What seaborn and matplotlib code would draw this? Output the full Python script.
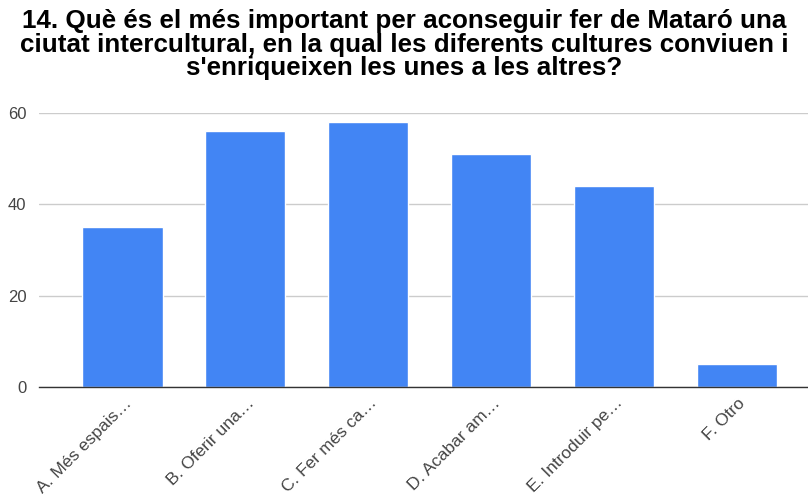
import matplotlib
matplotlib.use('Agg')
import matplotlib.pyplot as plt
import matplotlib.transforms as mtransforms
import seaborn as sns
import pandas as pd

# Survey answers (truncated as in the original chart) and response counts
categories = ['A. Més espais…', 'B. Oferir una…', 'C. Fer més ca…',
              'D. Acabar am…', 'E. Introduir pe…', 'F. Otro']
counts = [35, 56, 58, 51, 44, 5]
y_ticks = [0, 20, 40, 60]

title = ("14. Què és el més important per aconseguir fer de Mataró una\n"
         "ciutat intercultural, en la qual les diferents cultures conviuen i\n"
         "s'enriqueixen les unes a les altres?")

df = pd.DataFrame({'categoria': categories, 'respostes': counts})

sns.set_style('white')
plt.rcParams['font.family'] = ['Liberation Sans', 'DejaVu Sans']

fig = plt.figure(figsize=(8.08, 4.95), dpi=100)
ax = fig.add_axes([39 / 808, 1 - 387 / 495, 1 - 39 / 808, (387 - 113) / 495])

sns.barplot(data=df, x='categoria', y='respostes', color='#4285f4',
            width=0.652, saturation=1, ax=ax, zorder=3)

ax.set_ylim(0, 60)
ax.set_xlim(-0.68, 5.58)
ax.set_yticks(y_ticks)
ax.yaxis.grid(True, color='#cccccc', linewidth=1, zorder=0)
ax.set_xlabel('')
ax.set_ylabel('')

for side in ['top', 'right', 'left']:
    ax.spines[side].set_visible(False)
ax.spines['bottom'].set_color('#333333')
ax.spines['bottom'].set_linewidth(1)
ax.spines['bottom'].set_zorder(4)

ax.tick_params(axis='y', length=0, pad=9, labelsize=12, labelcolor='#444444')
ax.tick_params(axis='x', length=0, pad=6, labelsize=12.5, labelcolor='#444444')
# rotated labels anchored just right of the bar centre, as in the source chart
offset = mtransforms.ScaledTranslation(1 / 100, 0, fig.dpi_scale_trans)
for lbl in ax.get_xticklabels():
    lbl.set_rotation(45)
    lbl.set_ha('right')
    lbl.set_rotation_mode('anchor')
    lbl.set_transform(lbl.get_transform() + offset)

fig.suptitle(title, x=0.5, y=0.982, fontsize=18.7, fontweight='bold',
             color='#000000', linespacing=0.98, va='top')

fig.savefig('out.png', dpi=100, facecolor='white')
plt.close(fig)
